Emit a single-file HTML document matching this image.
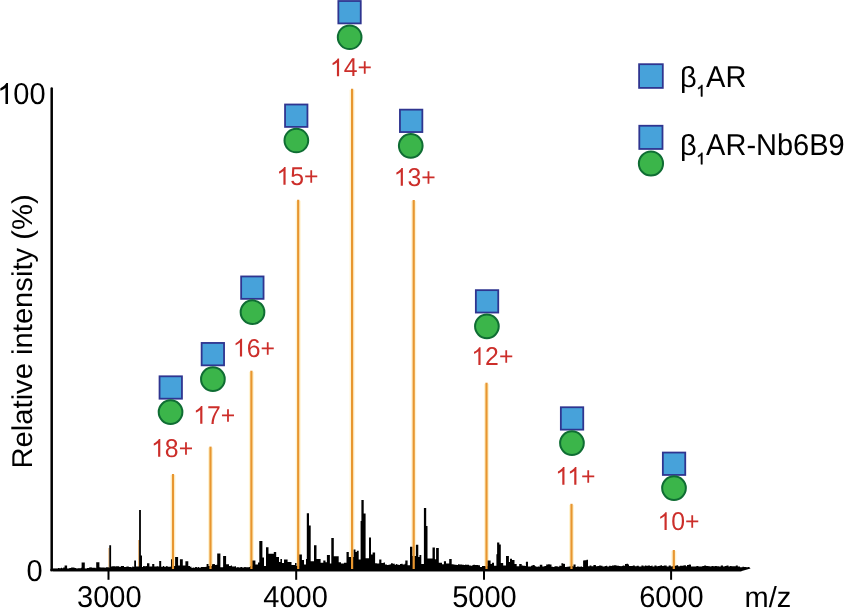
<!DOCTYPE html>
<html><head><meta charset="utf-8"><style>
html,body{margin:0;padding:0;background:#fff;overflow:hidden}
svg{display:block;will-change:transform;font-family:"Liberation Sans",sans-serif;text-rendering:geometricPrecision}
</style></head><body>
<svg width="844" height="608" viewBox="0 0 844 608">
<rect width="100%" height="100%" fill="#fff"/>
<line x1="173.0" y1="475" x2="173.0" y2="569" stroke="#fff3d2" stroke-width="5"/>
<line x1="210.5" y1="447.6" x2="210.5" y2="569" stroke="#fff3d2" stroke-width="5"/>
<line x1="251.4" y1="371.7" x2="251.4" y2="569" stroke="#fff3d2" stroke-width="5"/>
<line x1="298.2" y1="200.7" x2="298.2" y2="569" stroke="#fff3d2" stroke-width="5"/>
<line x1="352.1" y1="89.7" x2="352.1" y2="569" stroke="#fff3d2" stroke-width="5"/>
<line x1="413.7" y1="201.0" x2="413.7" y2="569" stroke="#fff3d2" stroke-width="5"/>
<line x1="486.5" y1="383.7" x2="486.5" y2="569" stroke="#fff3d2" stroke-width="5"/>
<line x1="571.5" y1="504.8" x2="571.5" y2="569" stroke="#fff3d2" stroke-width="5"/>
<line x1="673.8" y1="551" x2="673.8" y2="569" stroke="#fff3d2" stroke-width="5"/>
<line x1="108.9" y1="548" x2="108.9" y2="569" stroke="#e6b070" stroke-width="1"/>
<line x1="138.6" y1="540" x2="138.6" y2="569" stroke="#e6b070" stroke-width="1"/>
<path d="M53,571.3L53.0,568.6L54.5,568.6L54.5,568.5L56.7,568.5L56.7,568.6L58.0,568.6L58.0,567.9L59.2,567.9L59.2,568.3L61.0,568.3L61.0,567.7L62.1,567.7L62.1,568.3L63.2,568.3L63.2,567.4L64.6,567.4L64.6,565.4L67.1,565.4L67.1,568.6L69.3,568.6L69.3,568.1L71.1,568.1L71.1,567.4L72.3,567.4L72.3,567.5L73.9,567.5L73.9,567.7L75.1,567.7L75.1,568.0L76.2,568.0L76.2,568.4L77.7,568.4L77.7,568.2L79.3,568.2L79.3,568.2L80.9,568.2L80.9,567.7L81.6,567.7L81.6,562.6L84.8,562.6L84.8,568.4L87.0,568.4L87.0,568.0L89.0,568.0L89.0,567.5L90.4,567.5L90.4,567.3L91.7,567.3L91.7,567.7L93.7,567.7L93.7,567.7L95.7,567.7L95.7,568.2L96.2,568.2L96.2,562.2L99.4,562.2L99.4,567.2L100.4,567.2L100.4,567.5L102.5,567.5L102.5,567.4L104.7,567.4L104.7,567.7L105.8,567.7L105.8,567.2L107.7,567.2L107.7,567.3L108.8,567.3L108.8,567.8L109.3,567.8L109.3,545.3L111.1,545.3L111.1,566.4L112.2,566.4L112.2,566.2L113.4,566.2L113.4,566.3L115.3,566.3L115.3,566.6L116.0,566.6L116,566.3L119,566.3L119,566.8L121,566.8L121,566L124,566L124.0,567.0L125.2,567.0L125.2,566.9L126.4,566.9L126.4,566.6L127.5,566.6L127.5,566.4L128.8,566.4L128.8,567.1L130.9,567.1L130.9,567.2L132.3,567.2L132.3,566.6L133.6,566.6L133.6,566.9L134.2,566.9L134.2,560.6L136,560.6L136,566.5L139.1,566.5L139.1,510L140.9,510L140.9,555.4L142,555.4L142.0,567.0L143.1,567.0L143.1,566.1L144.4,566.1L144.4,566.2L146.3,566.2L146.3,565.9L147.0,565.9L147,563.3L149.4,563.3L149.4,566.5L152.2,566.5L152.2,563.9L154.3,563.9L154.3,566.5L155.4,566.5L155.4,566.5L156.7,566.5L156.7,566.3L158.1,566.3L158.1,566.4L159.2,566.4L159.2,560.9L161.2,560.9L161.2,566.7L162.9,566.7L162.9,565.9L164.1,565.9L164.1,566.7L166.2,566.7L166.2,565.9L167.5,565.9L167.5,566.8L169.4,566.8L169.4,566.8L170.6,566.8L170.6,566.4L171.0,566.4L171,559.2L172,559.2L172,566L175.1,566L175.1,557.1L178.1,557.1L178.1,565.4L179.9,565.4L179.9,559.2L182.8,559.2L182.8,565.5L185.4,565.5L185.4,561.2L188.3,561.2L188.3,566.1L190,566.1L190.0,566.8L191.5,566.8L191.5,567.9L192.6,567.9L192.6,567.5L193.8,567.5L193.8,567.7L195.1,567.7L195.1,567.1L196.9,567.1L196.9,567.6L198.1,567.6L198.1,567.0L199.2,567.0L199.2,567.7L200.8,567.7L200.8,567.0L202.6,567.0L202.6,566.9L204.7,566.9L204.7,567.0L205.7,567.0L205.7,566.8L206.6,566.8L206.6,564.1L208.5,564.1L208.5,566L212,566L212.0,564.3L213.2,564.3L213.2,564.1L214.9,564.1L214.9,565.0L216.3,565.0L216.3,564.7L217.2,564.7L217.2,553.6L220.4,553.6L220.4,567.3L223.1,567.3L223.1,556L226.1,556L226.1,564.3L229,564.3L229.0,566.1L230.8,566.1L230.8,565.4L232.0,565.4L232.0,566.5L233.0,566.5L233.0,566.6L234.9,566.6L234.9,566.2L235.9,566.2L235.9,566.3L236.0,566.3L236.0,567.5L237.4,567.5L237.4,567.0L238.5,567.0L238.5,567.4L240.4,567.4L240.4,567.1L242.2,567.1L242.2,567.4L244.2,567.4L244.2,567.1L245.6,567.1L245.6,567.3L247.7,567.3L247.7,567.2L249.2,567.2L249.2,567.0L250.2,567.0L250.2,566L252.1,566L252.1,560.4L255.4,560.4L255.4,564.5L258,564.5L258,562.5L259.3,562.5L259.3,541L262.4,541L262.4,557.6L264,557.6L264,566L266,566L266,547.3L268.5,547.3L268.5,553.8L273.8,553.8L273.8,552.1L276.2,552.1L276.2,557L279,557L279,562L280.4,562L280.4,559L282,559L282,563L284,563L284,559.4L287.6,559.4L287.6,562L289,562L289,562.1L291.5,562.1L291.5,565L295,565L295,563.1L296.5,563.1L296.5,566L299.1,566L299.1,554.6L301.9,554.6L301.9,560L304,560L304,564.5L306,564.5L306,559L306.8,559L306.8,513.3L309,513.3L309,525.4L310.7,525.4L310.7,561.2L314,561.2L314,545.2L316.5,545.2L316.5,559L320.6,559L320.6,562.8L323.3,562.8L323.3,560.6L325.5,560.6L325.5,562.3L326.9,562.3L326.9,555.1L329.9,555.1L329.9,563.4L331.3,563.4L331.3,538L333.8,538L333.8,556.2L338.7,556.2L338.7,562.3L341,562.3L341,563.4L344,563.4L344,562.8L346.5,562.8L346.5,552L348.8,552L348.8,557L353.6,557L353.6,549.4L355.5,549.4L355.5,552L356.8,552L356.8,550.7L358.7,550.7L358.7,559.6L360.6,559.6L360.6,521L361.4,521L361.4,500.1L363.7,500.1L363.7,513.4L365.6,513.4L365.6,558.3L369,558.3L369,537.4L371,537.4L371,554.5L372.6,554.5L372.6,552.6L375.1,552.6L375.1,563.2L376.8,563.2L376.8,563.4L378.5,563.4L378.5,563.5L379.2,563.5L379.2,559.6L381.4,559.6L381.4,563.1L383.6,563.1L383.6,562.5L385.0,562.5L385.0,564.6L386.9,564.6L386.9,564.9L388.4,564.9L388.4,564.8L389.5,564.8L389.5,564.6L390.5,564.6L390.5,564.2L391.0,564.2L391.0,563.3L392.8,563.3L392.8,563.8L394.6,563.8L394.6,562.7L394.7,562.7L394.7,564.7L396.1,564.7L396.1,564.1L397.3,564.1L397.3,564.7L399.4,564.7L399.4,565.0L400.0,565.0L400.0,564.1L401.4,564.1L401.4,563.8L402.6,563.8L402.6,564.4L404.6,564.4L404.6,563.8L405.3,563.8L405.3,560.4L407.6,560.4L407.6,565.2L410,565.2L410,546.8L412.4,546.8L412.4,556L415.9,556L415.9,544.8L418.3,544.8L418.3,556.9L419.5,556.9L419.5,555.1L421.3,555.1L421.3,564L423.9,564L423.9,508.1L426.2,508.1L426.2,526L427.5,526L427.5,558.5L432.5,558.5L432.5,547.4L434.9,547.4L434.9,559.2L436.1,559.2L436.1,548L438.8,548L438.8,562.8L442,562.8L442,564.2L443.9,564.2L443.9,561.3L446,561.3L446,563.4L449.2,563.4L449.2,559.1L451.7,559.1L451.7,564.2L453.4,564.2L453.4,564.4L454.6,564.4L454.6,564.8L456.6,564.8L456.6,564.9L458.0,564.9L458.0,564.3L459.3,564.3L459.3,564.4L460.9,564.4L460.9,564.6L462.1,564.6L462.1,564.7L463.9,564.7L463.9,565.1L465.3,565.1L465.3,564.6L466.0,564.6L466.0,564.8L467.1,564.8L467.1,564.8L469.1,564.8L469.1,565.5L471.0,565.5L471.0,565.7L472.4,565.7L472.4,565.0L473.4,565.0L473.4,564.8L474.9,564.8L474.9,565.1L476.9,565.1L476.9,564.9L478.1,564.9L478.1,565.3L479.8,565.3L479.8,565.6L480.0,565.6L480.0,567.1L482.0,567.1L482.0,566.1L483.8,566.1L483.8,566.1L485.4,566.1L485.4,566.5L486.4,566.5L486.4,566.1L487.3,566.1L487.3,560.6L490.6,560.6L490.6,564.1L491.9,564.1L491.9,562.8L494,562.8L494,565.8L496.4,565.8L496.4,554.2L497.1,554.2L497.1,542.4L499.3,542.4L499.3,544.6L500.8,544.6L500.8,563L503.2,563L503.2,565.5L506,565.5L506,556L508.9,556L508.9,562L510,562L510,558.8L512,558.8L512,559.9L514.5,559.9L514.5,564.1L516.7,564.1L516.7,566.2L519.2,566.2L519.2,564.1L521.7,564.1L521.7,565.6L523.0,565.6L523.0,565.8L524.9,565.8L524.9,566.1L525.9,566.1L525.9,561.8L528,561.8L528,566.6L531,566.6L531.0,565.8L532.5,565.8L532.5,564.9L534.6,564.9L534.6,565.7L535.0,565.7L535.0,566.2L536.2,566.2L536.2,566.8L537.9,566.8L537.9,566.4L539.4,566.4L539.4,566.7L539.8,566.7L539.8,564.8L542.3,564.8L542.3,566.5L544.4,566.5L544.4,566.1L546.2,566.1L546.2,564.4L548.1,564.4L548.1,564.3L549.8,564.3L549.8,564.5L551.1,564.5L551.1,564.6L551.5,564.6L551.5,566.7L553.1,566.7L553.1,566.9L554.5,566.9L554.5,566.2L556.6,566.2L556.6,566.3L557.7,566.3L557.7,566.7L559.3,566.7L559.3,565.8L560.9,565.8L560.9,565.9L561.4,565.9L561.4,563.3L563.4,563.3L563.4,564.0L564.8,564.0L564.8,563.3L565.0,563.3L565.0,566.9L566.6,566.9L566.6,566.8L568.6,566.8L568.6,566.6L570.8,566.6L570.8,566.1L572.9,566.1L572.9,566.6L573.5,566.6L573.5,564.5L575.6,564.5L575.6,566.9L576.9,566.9L576.9,566.6L578.7,566.6L578.7,566.7L580.7,566.7L580.7,566.5L582.1,566.5L582.1,567.1L583.1,567.1L583.1,560.6L584.3,560.6L584.3,560.2L586.5,560.2L586.5,559.8L588.0,559.8L588.0,566.2L589.6,566.2L589.6,565.6L591.4,565.6L591.4,566.2L593.4,566.2L593.4,564.9L595.9,564.9L595.9,566.3L597.4,566.3L597.4,565.9L599.1,565.9L599.1,565.4L600.9,565.4L600.9,565.8L602.5,565.8L602.5,566.4L604.7,566.4L604.7,565.9L606.0,565.9L606.0,565.8L607.2,565.8L607.2,566.4L609.1,566.4L609.1,565.7L610.7,565.7L610.7,566.0L611.9,566.0L611.9,565.5L614.0,565.5L614.0,565.3L616.0,565.3L616.0,565.6L617.2,565.6L617.2,565.7L619.0,565.7L619.0,566.0L620.5,566.0L620.5,566.2L621.6,566.2L621.6,565.9L622.7,565.9L622.7,565.5L624.0,565.5L624.0,565.8L625.0,565.8L625.0,564.1L626.5,564.1L626.5,563.8L628.1,563.8L628.1,564.4L629.0,564.4L629.0,565.9L630.8,565.9L630.8,566.0L632.8,566.0L632.8,565.6L634.8,565.6L634.8,566.3L636.7,566.3L636.7,565.7L638.8,565.7L638.8,566.4L640.2,566.4L640.2,566.5L641.4,566.5L641.4,565.5L643.5,565.5L643.5,566.2L644.8,566.2L644.8,565.4L646.1,565.4L646.1,565.8L648.1,565.8L648.1,565.5L650.0,565.5L650.0,566.1L651.5,566.1L651.5,565.5L652.5,565.5L652.5,566.4L654.4,566.4L654.4,565.4L656.5,565.4L656.5,566.2L658.1,566.2L658.1,566.1L659.7,566.1L659.7,565.4L661.0,565.4L661.0,565.3L662.1,565.3L662.1,565.9L663.7,565.9L663.7,565.5L665.4,565.5L665.4,565.5L666.7,565.5L666.7,566.5L668.7,566.5L668.7,565.4L670.8,565.4L670.8,566.4L671.8,566.4L671.8,566.2L673.4,566.2L673.4,565.9L674.8,565.9L674.8,565.8L676.4,565.8L676.4,565.3L678.1,565.3L678.1,566.3L680.0,566.3L680.0,565.8L681.2,565.8L681.2,565.8L683.1,565.8L683.1,565.5L684.3,565.5L684.3,565.3L685.9,565.3L685.9,566.3L687.0,566.3L687.0,565.1L688.8,565.1L688.8,564.6L690.6,564.6L690.6,564.7L691.0,564.7L691.0,566.5L693.2,566.5L693.2,566.6L694.5,566.6L694.5,566.4L696.4,566.4L696.4,566.0L698.4,566.0L698.4,566.6L700.4,566.6L700.4,566.4L702.3,566.4L702.3,566.0L704.2,566.0L704.2,565.6L706.1,565.6L706.1,566.1L707.5,566.1L707.5,565.9L708.5,565.9L708.5,566.2L710.2,566.2L710.2,566.6L711.5,566.6L711.5,565.9L713.3,565.9L713.3,566.2L715.1,566.2L715.1,566.0L716.8,566.0L716.8,566.3L719.0,566.3L719.0,566.4L720.8,566.4L720.8,565.5L723.0,565.5L723.0,566.4L724.7,566.4L724.7,566.0L726.0,566.0L726.0,565.7L727.1,565.7L727.1,565.6L728.5,565.6L728.5,566.6L729.8,566.6L729.8,566.1L731.5,566.1L731.5,566.2L733.7,566.2L733.7,566.3L735.8,566.3L735.8,565.6L737.8,565.6L737.8,566.4L739.5,566.4L739.5,566.6L740.0,566.6L740.0,567.2L741.2,567.2L741.2,567.2L742.4,567.2L742.4,566.7L744.1,566.7L744.1,567.1L746.3,567.1L746.3,567.3L747.9,567.3L747.9,566.9L749.0,566.9L750,567.8L750.5,568.6L741,571.3Z" fill="#000"/>
<line x1="51.7" y1="88.6" x2="51.7" y2="570" stroke="#000" stroke-width="2.5" stroke-linecap="round"/>
<rect x="50.4" y="568.9" width="691" height="2.4" fill="#000"/>
<line x1="108.5" y1="570" x2="108.5" y2="579.8" stroke="#000" stroke-width="2"/>
<line x1="296.2" y1="570" x2="296.2" y2="579.8" stroke="#000" stroke-width="2"/>
<line x1="484" y1="570" x2="484" y2="579.8" stroke="#000" stroke-width="2"/>
<line x1="671.1" y1="570" x2="671.1" y2="579.8" stroke="#000" stroke-width="2"/>
<line x1="173.0" y1="474" x2="173.0" y2="569" stroke="#e8962f" stroke-width="2.2"/>
<line x1="210.5" y1="446.6" x2="210.5" y2="569" stroke="#e8962f" stroke-width="2.2"/>
<line x1="251.4" y1="370.7" x2="251.4" y2="569" stroke="#e8962f" stroke-width="2.2"/>
<line x1="298.2" y1="199.7" x2="298.2" y2="569" stroke="#e8962f" stroke-width="2.2"/>
<line x1="352.1" y1="88.7" x2="352.1" y2="569" stroke="#e8962f" stroke-width="2.2"/>
<line x1="413.7" y1="200.0" x2="413.7" y2="569" stroke="#e8962f" stroke-width="2.2"/>
<line x1="486.5" y1="382.7" x2="486.5" y2="569" stroke="#e8962f" stroke-width="2.2"/>
<line x1="571.5" y1="503.8" x2="571.5" y2="569" stroke="#e8962f" stroke-width="2.2"/>
<line x1="673.8" y1="550" x2="673.8" y2="569" stroke="#e8962f" stroke-width="2.2"/>
<rect x="159.55" y="376.30" width="22.4" height="22.4" fill="#47a2da" stroke="#2f3590" stroke-width="1.8"/>
<circle cx="170.55" cy="412.05" r="11.85" fill="#3bb54a" stroke="#0f6d33" stroke-width="2"/>
<path transform="translate(151.06,456.80) scale(24.8,-24.800)" d="M0.3726,0 L0.2847,0 L0.2847,0.5601 Q0.253,0.530 0.2012,0.4995 Q0.150,0.469 0.1089,0.4541 L0.1089,0.5391 Q0.183,0.574 0.2378,0.6230 Q0.293,0.672 0.3159,0.7188 L0.3726,0.7188 Z" fill="#cc2e2a"/>
<text transform="translate(164.85,456.80) scale(1,1.04)" font-size="24.8" fill="#cc2e2a">8+</text>
<rect x="201.65" y="342.95" width="22.4" height="22.4" fill="#47a2da" stroke="#2f3590" stroke-width="1.8"/>
<circle cx="212.9" cy="379.2" r="11.85" fill="#3bb54a" stroke="#0f6d33" stroke-width="2"/>
<path transform="translate(193.16,423.80) scale(24.8,-24.800)" d="M0.3726,0 L0.2847,0 L0.2847,0.5601 Q0.253,0.530 0.2012,0.4995 Q0.150,0.469 0.1089,0.4541 L0.1089,0.5391 Q0.183,0.574 0.2378,0.6230 Q0.293,0.672 0.3159,0.7188 L0.3726,0.7188 Z" fill="#cc2e2a"/>
<text transform="translate(206.95,423.80) scale(1,1.04)" font-size="24.8" fill="#cc2e2a">7+</text>
<rect x="241.15" y="276.45" width="22.4" height="22.4" fill="#47a2da" stroke="#2f3590" stroke-width="1.8"/>
<circle cx="252.5" cy="312.2" r="11.85" fill="#3bb54a" stroke="#0f6d33" stroke-width="2"/>
<path transform="translate(232.86,356.50) scale(24.8,-24.800)" d="M0.3726,0 L0.2847,0 L0.2847,0.5601 Q0.253,0.530 0.2012,0.4995 Q0.150,0.469 0.1089,0.4541 L0.1089,0.5391 Q0.183,0.574 0.2378,0.6230 Q0.293,0.672 0.3159,0.7188 L0.3726,0.7188 Z" fill="#cc2e2a"/>
<text transform="translate(246.65,356.50) scale(1,1.04)" font-size="24.8" fill="#cc2e2a">6+</text>
<rect x="285.05" y="104.50" width="22.4" height="22.4" fill="#47a2da" stroke="#2f3590" stroke-width="1.8"/>
<circle cx="296.35" cy="140.5" r="11.85" fill="#3bb54a" stroke="#0f6d33" stroke-width="2"/>
<path transform="translate(276.36,184.80) scale(24.8,-24.800)" d="M0.3726,0 L0.2847,0 L0.2847,0.5601 Q0.253,0.530 0.2012,0.4995 Q0.150,0.469 0.1089,0.4541 L0.1089,0.5391 Q0.183,0.574 0.2378,0.6230 Q0.293,0.672 0.3159,0.7188 L0.3726,0.7188 Z" fill="#cc2e2a"/>
<text transform="translate(290.15,184.80) scale(1,1.04)" font-size="24.8" fill="#cc2e2a">5+</text>
<rect x="338.35" y="1.00" width="22.4" height="22.4" fill="#47a2da" stroke="#2f3590" stroke-width="1.8"/>
<circle cx="349.65" cy="37.25" r="11.85" fill="#3bb54a" stroke="#0f6d33" stroke-width="2"/>
<path transform="translate(329.86,76.30) scale(24.8,-24.800)" d="M0.3726,0 L0.2847,0 L0.2847,0.5601 Q0.253,0.530 0.2012,0.4995 Q0.150,0.469 0.1089,0.4541 L0.1089,0.5391 Q0.183,0.574 0.2378,0.6230 Q0.293,0.672 0.3159,0.7188 L0.3726,0.7188 Z" fill="#cc2e2a"/>
<text transform="translate(343.65,76.30) scale(1,1.04)" font-size="24.8" fill="#cc2e2a">4+</text>
<rect x="399.95" y="109.65" width="22.4" height="22.4" fill="#47a2da" stroke="#2f3590" stroke-width="1.8"/>
<circle cx="410.75" cy="145.8" r="11.85" fill="#3bb54a" stroke="#0f6d33" stroke-width="2"/>
<path transform="translate(393.66,185.80) scale(24.8,-24.800)" d="M0.3726,0 L0.2847,0 L0.2847,0.5601 Q0.253,0.530 0.2012,0.4995 Q0.150,0.469 0.1089,0.4541 L0.1089,0.5391 Q0.183,0.574 0.2378,0.6230 Q0.293,0.672 0.3159,0.7188 L0.3726,0.7188 Z" fill="#cc2e2a"/>
<text transform="translate(407.45,185.80) scale(1,1.04)" font-size="24.8" fill="#cc2e2a">3+</text>
<rect x="475.85" y="290.15" width="22.4" height="22.4" fill="#47a2da" stroke="#2f3590" stroke-width="1.8"/>
<circle cx="486.9" cy="326.3" r="11.85" fill="#3bb54a" stroke="#0f6d33" stroke-width="2"/>
<path transform="translate(471.31,365.10) scale(24.8,-24.800)" d="M0.3726,0 L0.2847,0 L0.2847,0.5601 Q0.253,0.530 0.2012,0.4995 Q0.150,0.469 0.1089,0.4541 L0.1089,0.5391 Q0.183,0.574 0.2378,0.6230 Q0.293,0.672 0.3159,0.7188 L0.3726,0.7188 Z" fill="#cc2e2a"/>
<text transform="translate(485.10,365.10) scale(1,1.04)" font-size="24.8" fill="#cc2e2a">2+</text>
<rect x="560.85" y="407.25" width="22.4" height="22.4" fill="#47a2da" stroke="#2f3590" stroke-width="1.8"/>
<circle cx="571.95" cy="443.1" r="11.85" fill="#3bb54a" stroke="#0f6d33" stroke-width="2"/>
<path transform="translate(555.23,484.80) scale(24.8,-24.800)" d="M0.3726,0 L0.2847,0 L0.2847,0.5601 Q0.253,0.530 0.2012,0.4995 Q0.150,0.469 0.1089,0.4541 L0.1089,0.5391 Q0.183,0.574 0.2378,0.6230 Q0.293,0.672 0.3159,0.7188 L0.3726,0.7188 Z" fill="#cc2e2a"/>
<path transform="translate(567.18,484.80) scale(24.8,-24.800)" d="M0.3726,0 L0.2847,0 L0.2847,0.5601 Q0.253,0.530 0.2012,0.4995 Q0.150,0.469 0.1089,0.4541 L0.1089,0.5391 Q0.183,0.574 0.2378,0.6230 Q0.293,0.672 0.3159,0.7188 L0.3726,0.7188 Z" fill="#cc2e2a"/>
<text transform="translate(580.97,484.80) scale(1,1.04)" font-size="24.8" fill="#cc2e2a">+</text>
<rect x="662.85" y="452.55" width="22.4" height="22.4" fill="#47a2da" stroke="#2f3590" stroke-width="1.8"/>
<circle cx="674" cy="488.1" r="11.85" fill="#3bb54a" stroke="#0f6d33" stroke-width="2"/>
<path transform="translate(657.46,530.00) scale(24.8,-24.800)" d="M0.3726,0 L0.2847,0 L0.2847,0.5601 Q0.253,0.530 0.2012,0.4995 Q0.150,0.469 0.1089,0.4541 L0.1089,0.5391 Q0.183,0.574 0.2378,0.6230 Q0.293,0.672 0.3159,0.7188 L0.3726,0.7188 Z" fill="#cc2e2a"/>
<text transform="translate(671.25,530.00) scale(1,1.04)" font-size="24.8" fill="#cc2e2a">0+</text>
<path transform="translate(-2.80,103.90) scale(29,-29.000)" d="M0.3726,0 L0.2847,0 L0.2847,0.5601 Q0.253,0.530 0.2012,0.4995 Q0.150,0.469 0.1089,0.4541 L0.1089,0.5391 Q0.183,0.574 0.2378,0.6230 Q0.293,0.672 0.3159,0.7188 L0.3726,0.7188 Z" fill="#000"/>
<text transform="translate(13.32,103.50) scale(1,1.04)" font-size="29">00</text>
<text transform="translate(26.50,581.40) scale(1,1.04)" font-size="29">0</text>
<text transform="translate(109.30,607.30) scale(1,1.04)" font-size="29" text-anchor="middle">3000</text>
<text transform="translate(295.60,607.30) scale(1,1.04)" font-size="29" text-anchor="middle">4000</text>
<text transform="translate(484.45,607.30) scale(1,1.04)" font-size="29" text-anchor="middle">5000</text>
<text transform="translate(671.40,607.30) scale(1,1.04)" font-size="29" text-anchor="middle">6000</text>
<text transform="translate(744.60,606.60) scale(1,1.0)" font-size="29">m/z</text>
<text transform="translate(31.6,468.5) rotate(-90) scale(1,0.98)" font-size="29.2">Relative intensity (%)</text>
<rect x="639.10" y="64.20" width="23.7" height="23.7" fill="#47a2da" stroke="#2f3590" stroke-width="1.8"/>
<text transform="translate(680.00,86.60) scale(1,1.0)" font-size="29">β</text>
<path transform="translate(696.40,96.40) scale(16,-16.000)" d="M0.3726,0 L0.2847,0 L0.2847,0.5601 Q0.253,0.530 0.2012,0.4995 Q0.150,0.469 0.1089,0.4541 L0.1089,0.5391 Q0.183,0.574 0.2378,0.6230 Q0.293,0.672 0.3159,0.7188 L0.3726,0.7188 Z" fill="#000" stroke="#000" stroke-width="0.03"/>
<text transform="translate(706.10,86.60) scale(1,1.04)" font-size="29">AR</text>
<rect x="639.30" y="125.75" width="23.2" height="23.2" fill="#47a2da" stroke="#2f3590" stroke-width="1.8"/>
<circle cx="650.95" cy="163.5" r="12.1" fill="#3bb54a" stroke="#0f6d33" stroke-width="2"/>
<text transform="translate(679.90,154.60) scale(1,1.0)" font-size="29">β</text>
<path transform="translate(696.40,164.30) scale(16,-16.000)" d="M0.3726,0 L0.2847,0 L0.2847,0.5601 Q0.253,0.530 0.2012,0.4995 Q0.150,0.469 0.1089,0.4541 L0.1089,0.5391 Q0.183,0.574 0.2378,0.6230 Q0.293,0.672 0.3159,0.7188 L0.3726,0.7188 Z" fill="#000" stroke="#000" stroke-width="0.03"/>
<text transform="translate(706.10,154.60) scale(1,1.04)" font-size="29">AR-Nb6B9</text>
</svg>
</body></html>
